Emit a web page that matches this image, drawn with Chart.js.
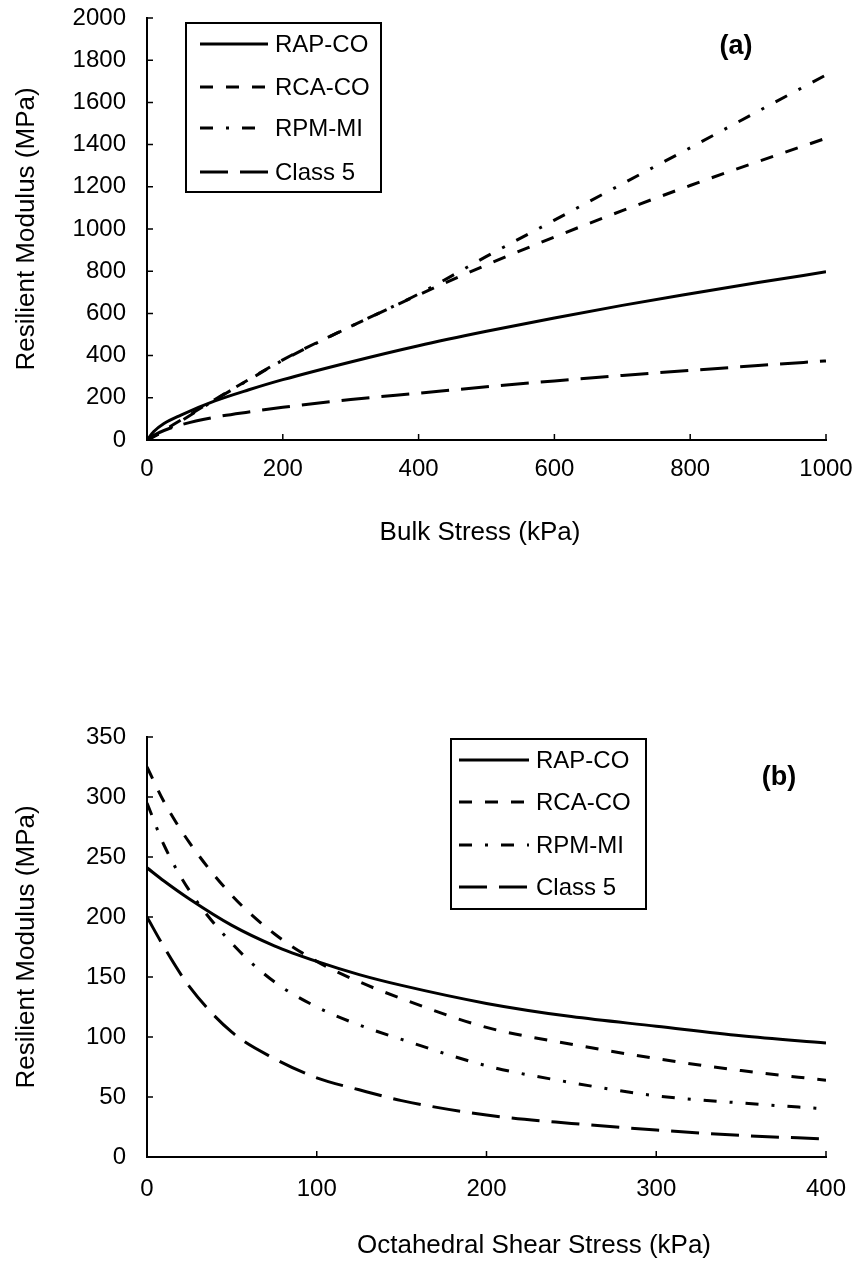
<!DOCTYPE html>
<html>
<head>
<meta charset="utf-8">
<script src="https://cdn.jsdelivr.net/npm/chart.js@4/dist/chart.umd.min.js"></script>
<style>
  html, body { margin: 0; padding: 0; background: #fff; }
  #wrap { position: relative; width: 857px; height: 1266px; }
  #chartA { position: absolute; left: 0; top: 0; }
  #chartB { position: absolute; left: 0; top: 600px; }
</style>
</head>
<body>
<div id="wrap">
  <canvas id="chartA" width="857" height="600"></canvas>
  <canvas id="chartB" width="857" height="666"></canvas>
</div>
<script>
// (a) resilient modulus vs bulk stress
var bulkStress = [0, 10, 25, 50, 100, 150, 200, 300, 400, 500, 600, 700, 800, 900, 1000];
var bulkRapCo  = [0, 40, 78, 118, 185, 238, 286, 370, 447, 515, 578, 638, 693, 746, 797];
var bulkRcaCo  = [0, 18, 46, 95, 192, 287, 380, 538, 688, 830, 962, 1087, 1206, 1320, 1430];
var bulkRpmMi  = [0, 16, 42, 90, 190, 285, 378, 538, 692, 870, 1042, 1214, 1385, 1558, 1730];
var bulkClass5 = [0, 22, 45, 72, 108, 133, 155, 192, 222, 252, 280, 306, 330, 353, 375];

// (b) resilient modulus vs octahedral shear stress
var octShear   = [0, 10, 25, 50, 75, 100, 125, 150, 200, 250, 300, 350, 400];
var octRapCo   = [241, 230, 215, 193, 176, 163, 152, 143, 128, 117, 109, 101, 95];
var octRcaCo   = [325, 296, 262, 218, 186, 163, 146, 132, 108, 94, 82, 72, 64];
var octRpmMi   = [295, 260, 222, 178, 146, 125, 110, 98, 76, 62, 51, 45, 40];
var octClass5  = [200, 175, 142, 104, 82, 66, 56, 47, 35, 28, 22.5, 18, 15];

var seriesNames = ["RAP-CO", "RCA-CO", "RPM-MI", "Class 5"];
var xTicksA = [0, 200, 400, 600, 800, 1000];
var yTicksA = [0, 200, 400, 600, 800, 1000, 1200, 1400, 1600, 1800, 2000];
var xTicksB = [0, 100, 200, 300, 400];
var yTicksB = [0, 50, 100, 150, 200, 250, 300, 350];

var FONT = '"Liberation Sans", Arial, sans-serif';
var dashes = [[], [13, 13], [13, 13, 3, 13], [28, 12]];

function pts(xs, ys) {
    return xs.map(function(x, i) { return { x: x, y: ys[i] }; });
}

// inside tick marks, x title, panel letter and boxed legend
var decor = {
    id: "decor",
    afterDatasetsDraw: function(chart, args, o) {
        var ctx = chart.ctx, a = chart.chartArea;
        var sx = chart.scales.x, sy = chart.scales.y;
        ctx.save();
        ctx.strokeStyle = "#000";
        ctx.lineWidth = 1.5;
        ctx.beginPath();
        sx.ticks.forEach(function(t) {
            var p = sx.getPixelForValue(t.value);
            ctx.moveTo(p, a.bottom); ctx.lineTo(p, a.bottom - 6);
        });
        sy.ticks.forEach(function(t) {
            var p = sy.getPixelForValue(t.value);
            ctx.moveTo(a.left, p); ctx.lineTo(a.left + 6, p);
        });
        ctx.stroke();

        ctx.fillStyle = "#000";
        ctx.textAlign = "center";
        ctx.textBaseline = "middle";
        ctx.font = "26px " + FONT;
        ctx.fillText(o.xTitle, a.left + o.xTitleX, a.bottom + o.xTitleY);

        ctx.font = "bold 27px " + FONT;
        ctx.fillText(o.panel, a.left + o.panelX, a.top + o.panelY);

        var bx = a.left + o.boxX, by = a.top + o.boxY;
        ctx.fillStyle = "#fff";
        ctx.fillRect(bx, by, o.boxW, o.boxH);
        ctx.lineWidth = 2;
        ctx.strokeRect(bx, by, o.boxW, o.boxH);
        ctx.font = "24px " + FONT;
        ctx.textAlign = "left";
        chart.data.datasets.forEach(function(ds, i) {
            var y = by + o.rows[i];
            ctx.setLineDash(ds.borderDash || []);
            ctx.lineWidth = 3;
            ctx.beginPath();
            ctx.moveTo(bx + o.line0, y); ctx.lineTo(bx + o.line1, y);
            ctx.stroke();
            ctx.setLineDash([]);
            ctx.fillStyle = "#000";
            ctx.fillText(ds.label, bx + o.textX, y + 1);
        });
        ctx.restore();
    }
};

function noOverflow(sc) {
    sc.paddingTop = 0; sc.paddingBottom = 0;
    sc.paddingLeft = 0; sc.paddingRight = 0;
}

function makeChart(id, xs, ys, s, ax) {
    var datasets = ys.map(function(v, i) {
        return {
            label: seriesNames[i],
            data: pts(xs, v),
            borderColor: "#000",
            borderWidth: 3,
            borderDash: dashes[i],
            pointRadius: 0,
            fill: false,
            cubicInterpolationMode: "monotone"
        };
    });
    return new Chart(document.getElementById(id), {
        type: "line",
        data: { datasets: datasets },
        plugins: [decor],
        options: {
            responsive: false,
            animation: false,
            events: [],
            layout: { padding: { left: 0, top: s.top, right: 31, bottom: 0 } },
            plugins: { legend: { display: false }, tooltip: { enabled: false }, decor: s.decor },
            scales: {
                x: {
                    type: "linear", min: ax.xMin, max: ax.xMax,
                    afterBuildTicks: function(sc) { sc.ticks = ax.xTicks.map(function(v) { return { value: v }; }); },
                    grid: { display: false, drawTicks: false },
                    border: { display: true, color: "#000", width: 2 },
                    ticks: { color: "#000", font: { family: FONT, size: 24 }, padding: s.xPad, maxRotation: 0, autoSkip: false,
                             callback: function(v) { return String(v); } },
                    title: { display: false },
                    afterFit: function(sc) { sc.height = s.xH; noOverflow(sc); }
                },
                y: {
                    type: "linear", min: ax.yMin, max: ax.yMax,
                    afterBuildTicks: function(sc) { sc.ticks = ax.yTicks.map(function(v) { return { value: v }; }); },
                    grid: { display: false, drawTicks: false },
                    border: { display: true, color: "#000", width: 2 },
                    ticks: { color: "#000", font: { family: FONT, size: 24 }, padding: 21, autoSkip: false,
                             callback: function(v) { return String(v); } },
                    title: { display: true, text: "Resilient Modulus (MPa)", color: "#000", font: { family: FONT, size: 26 }, padding: { top: 11, bottom: 0 } },
                    afterFit: function(sc) { sc.width = 147; noOverflow(sc); }
                }
            }
        }
    });
}

document.addEventListener("DOMContentLoaded", function() {
    makeChart("chartA", bulkStress, [bulkRapCo, bulkRcaCo, bulkRpmMi, bulkClass5], {
        top: 18, xH: 160, xPad: 15,
        decor: { xTitle: "Bulk Stress (kPa)", xTitleX: 333, xTitleY: 93,
                 panel: "(a)", panelX: 589, panelY: 29,
                 boxX: 39, boxY: 5, boxW: 195, boxH: 169,
                 rows: [21, 64, 105, 149], line0: 14, line1: 82, textX: 89 }
    }, { xMin: 0, xMax: 1000, yMin: 0, yMax: 2000, xTicks: xTicksA, yTicks: yTicksA });

    makeChart("chartB", octShear, [octRapCo, octRcaCo, octRpmMi, octClass5], {
        top: 137, xH: 109, xPad: 18,
        decor: { xTitle: "Octahedral Shear Stress (kPa)", xTitleX: 387, xTitleY: 89,
                 panel: "(b)", panelX: 632, panelY: 41,
                 boxX: 304, boxY: 2, boxW: 195, boxH: 170,
                 rows: [21, 63, 106, 148], line0: 8, line1: 78, textX: 85 }
    }, { xMin: 0, xMax: 400, yMin: 0, yMax: 350, xTicks: xTicksB, yTicks: yTicksB });
});
</script>
</body>
</html>
